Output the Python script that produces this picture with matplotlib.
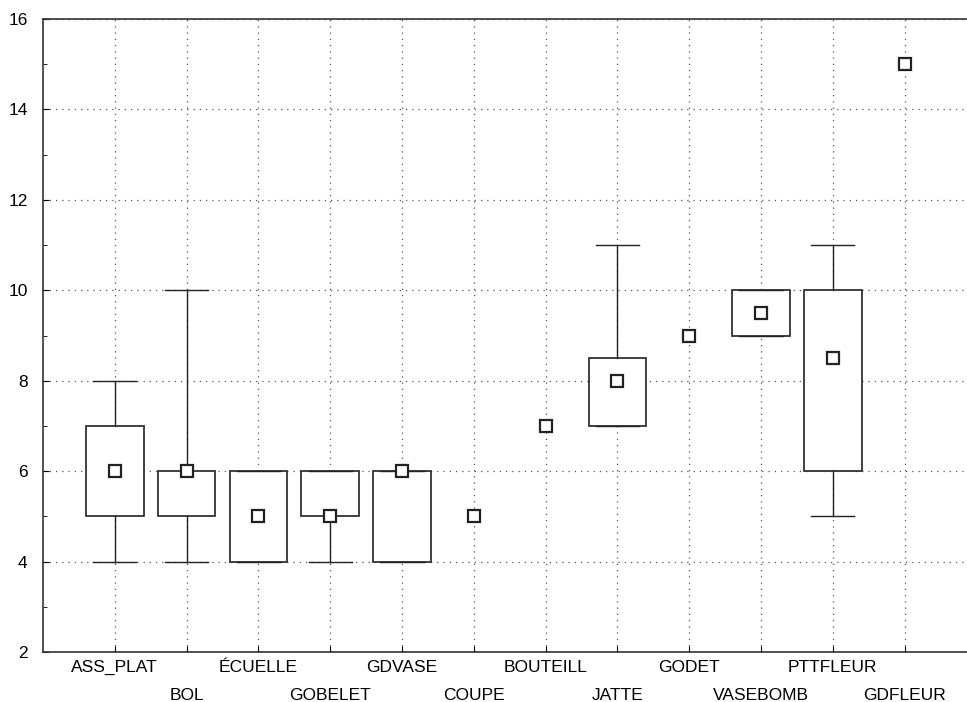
import matplotlib
matplotlib.use("Agg")
import matplotlib.pyplot as plt
from matplotlib.ticker import MultipleLocator

plt.rcParams['font.family'] = ['Liberation Sans', 'DejaVu Sans']

categories = ["ASS_PLAT", "BOL", "ÉCUELLE", "GOBELET", "GDVASE", "COUPE",
              "BOUTEILL", "JATTE", "GODET", "VASEBOMB", "PTTFLEUR", "GDFLEUR"]
medians = [6, 6, 5, 5, 6, 5, 7, 8, 9, 9.5, 8.5, 15]
q1 = [5, 5, 4, 5, 4, 5, 7, 7, 9, 9, 6, 15]
q3 = [7, 6, 6, 6, 6, 5, 7, 8.5, 9, 10, 10, 15]
lows = [4, 4, 4, 4, 4, 5, 7, 7, 9, 9, 5, 15]
highs = [8, 10, 6, 6, 6, 5, 7, 11, 9, 10, 11, 15]

positions = list(range(1, len(categories) + 1))

fig = plt.figure(figsize=(9.67, 7.02), dpi=100)
ax = fig.add_axes([43 / 967, 50 / 702, 924 / 967, 633 / 702])

# boxes only where there is a spread
stats = []
box_pos = []
for i in range(len(categories)):
    if q3[i] > q1[i]:
        stats.append({"med": medians[i], "q1": q1[i], "q3": q3[i],
                      "whislo": lows[i], "whishi": highs[i], "fliers": []})
        box_pos.append(positions[i])

ax.bxp(stats, positions=box_pos, widths=0.8, capwidths=0.6,
       patch_artist=True, showfliers=False,
       boxprops=dict(facecolor="white", edgecolor="#333333", linewidth=1.3),
       whiskerprops=dict(color="#222222", linewidth=1.0),
       capprops=dict(color="#222222", linewidth=1.0),
       medianprops=dict(linestyle="none"),
       manage_ticks=False, zorder=2)

ax.plot(positions, medians, "s", markersize=8, markerfacecolor="white",
        markeredgecolor="#222222", markeredgewidth=1.6, linestyle="none", zorder=4)

ax.set_xlim(0, 924 / 71.8)
ax.set_ylim(2, 16)
ax.yaxis.set_major_locator(MultipleLocator(2))
ax.yaxis.set_minor_locator(MultipleLocator(1))
ax.set_xticks(positions)
ax.set_xticklabels(categories, fontsize=12.5)
for i, t in enumerate(ax.xaxis.get_major_ticks()):
    t.set_pad(6 if i % 2 == 0 else 26)
ax.tick_params(axis="y", labelsize=12.5, direction="in", length=4, pad=11)
ax.tick_params(axis="y", which="minor", direction="in", length=3)
ax.tick_params(axis="x", direction="in", length=4)

ax.set_axisbelow(True)
ax.grid(True, linestyle=(0, (1, 4)), color="#555555", linewidth=0.9)

for s in ["left", "top", "bottom"]:
    ax.spines[s].set_color("#333333")
    ax.spines[s].set_linewidth(1.2)
ax.spines["right"].set_visible(False)

plt.savefig("out.png", dpi=100)
